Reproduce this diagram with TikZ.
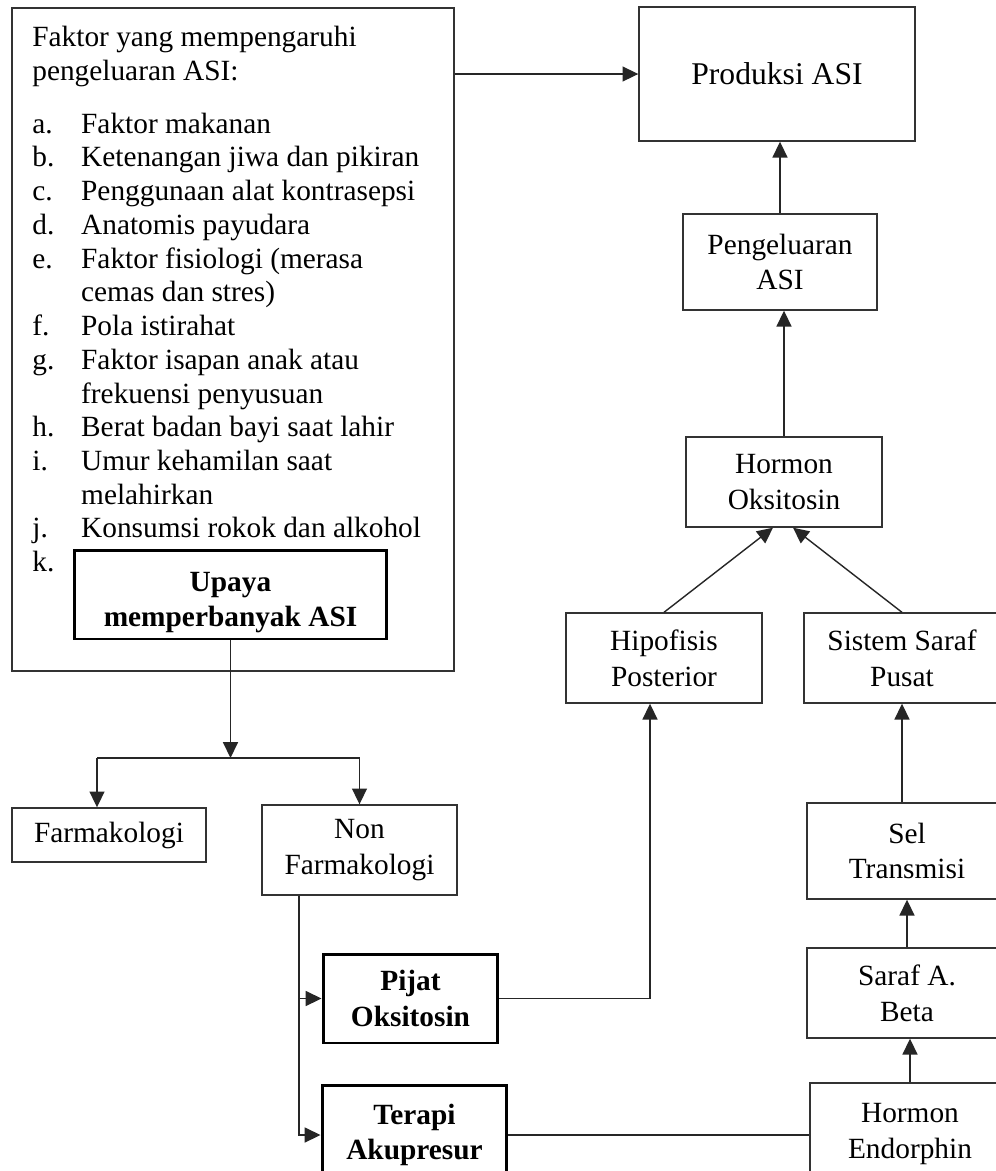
\documentclass[tikz,border=0pt]{standalone}
\usepackage{fontspec}
\setmainfont{Liberation Serif}
\usetikzlibrary{arrows.meta, positioning}
\newcommand{\butir}[1]{\makebox[27.8pt][l]{#1}}
\newcommand{\lanjut}{\hspace*{27.8pt}}

\begin{document}
\begin{tikzpicture}[x=0.02cm, y=-0.02cm,
        box/.style={draw=black!80, line width=0.8pt, align=center, inner sep=0pt, font=\fontsize{16.7}{20.4}\selectfont},
        thickbox/.style={box, draw=black, line width=1.7pt, font=\fontsize{16.7}{20.4}\selectfont\bfseries},
        arr/.style={draw=black!85, line width=0.8pt, -{Triangle[length=9pt, width=8.5pt]}}]
    \clip (0,0) rectangle (996,1171);
    \fill[white] (0,0) rectangle (996,1171);

    \node[box, minimum width=8.84cm, minimum height=13.26cm] (faktor) at (233,339.5) {};
    \node[anchor=north west, align=left, inner sep=0pt, font=\fontsize{16.7}{19.2}\selectfont] (daftar) at (32,26) {Faktor yang mempengaruhi\\
        pengeluaran ASI:\\[10.8pt]
        \butir{a.}Faktor makanan\\
        \butir{b.}Ketenangan jiwa dan pikiran\\
        \butir{c.}Penggunaan alat kontrasepsi\\
        \butir{d.}Anatomis payudara\\
        \butir{e.}Faktor fisiologi (merasa\\
        \lanjut cemas dan stres)\\
        \butir{f.}Pola istirahat\\
        \butir{g.}Faktor isapan anak atau\\
        \lanjut frekuensi penyusuan\\
        \butir{h.}Berat badan bayi saat lahir\\
        \butir{i.}Umur kehamilan saat\\
        \lanjut melahirkan\\
        \butir{j.}Konsumsi rokok dan alkohol\\
        \butir{k.}};

    \node[thickbox, fill=white, minimum width=6.26cm, minimum height=1.78cm] (upaya) at (230.5,594.5) {};
    \node[align=center, inner sep=0pt, font=\fontsize{16.7}{20.4}\selectfont\bfseries] (upayateks) at ([yshift=-0.16cm]upaya.center) {Upaya\\ memperbanyak ASI};
    \node[box, minimum width=5.52cm, minimum height=2.68cm, font=\fontsize{18}{22}\selectfont] (produksi) at (777,74) {Produksi ASI};
    \node[box, minimum width=3.88cm, minimum height=1.92cm] (pengeluaran) at (780,262) {Pengeluaran\\ ASI};
    \node[box, minimum width=3.92cm, minimum height=1.8cm] (oksitosin) at (784,482) {Hormon\\ Oksitosin};
    \node[box, minimum width=3.92cm, minimum height=1.8cm] (hipofisis) at (664,658) {Hipofisis\\ Posterior};
    \node[box, minimum width=3.92cm, minimum height=1.8cm] (sistem) at (902,658) {Sistem Saraf\\ Pusat};
    \node[box, minimum width=4cm, minimum height=1.92cm] (sel) at (907,851) {Sel\\ Transmisi};
    \node[box, minimum width=4cm, minimum height=1.8cm] (saraf) at (907,993) {Saraf A.\\ Beta};
    \node[box, minimum width=4cm, minimum height=2.04cm] (endorphin) at (910,1134) {Hormon\\ Endorphin};
    \node[box, minimum width=3.88cm, minimum height=1.08cm] (farmakologi) at (109,835) {Farmakologi};
    \node[box, minimum width=3.9cm, minimum height=1.8cm] (nonfarmakologi) at (359.5,850) {Non\\ Farmakologi};
    \node[thickbox, minimum width=3.5cm, minimum height=1.78cm] (pijat) at (410.5,998.5) {Pijat\\ Oksitosin};
    \node[thickbox, minimum width=3.7cm, minimum height=2cm] (terapi) at (414.5,1135) {Terapi\\ Akupresur};

    \draw[arr] (faktor.east |- produksi.west) -- (produksi.west);
    \draw[arr] (pengeluaran.north) -- (pengeluaran.north |- produksi.south);
    \draw[arr] (oksitosin.north) -- (oksitosin.north |- pengeluaran.south);
    \draw[arr] (hipofisis.north) -- ([xshift=-0.22cm]oksitosin.south);
    \draw[arr] (sistem.north) -- ([xshift=0.18cm]oksitosin.south);
    \draw[arr] (sistem.south |- sel.north) -- (sistem.south);
    \draw[arr] (saraf.north) -- (sel.south);
    \draw[arr] (endorphin.north) -- (endorphin.north |- saraf.south);
    \draw[draw=black!85, line width=0.8pt] (terapi.east) -- (terapi.east -| endorphin.west);
    \draw[arr] (pijat.east) -| ([xshift=-0.28cm]hipofisis.south);

    \coordinate (cabang) at (230.5,758);
    \coordinate (kiri) at (97,758);
    \coordinate (kanan) at (359.5,758);
    \draw[arr] (upaya.south) -- (cabang);
    \draw[draw=black!85, line width=0.8pt] (kiri) -- (kanan);
    \draw[arr] (kiri) -- (kiri |- farmakologi.north);
    \draw[arr] (kanan) -- (nonfarmakologi.north);

    \coordinate (turun) at ([xshift=-1.21cm]nonfarmakologi.south);
    \draw[arr] (turun) |- (pijat.west);
    \draw[arr] (turun) |- (terapi.west);
\end{tikzpicture}
\end{document}
